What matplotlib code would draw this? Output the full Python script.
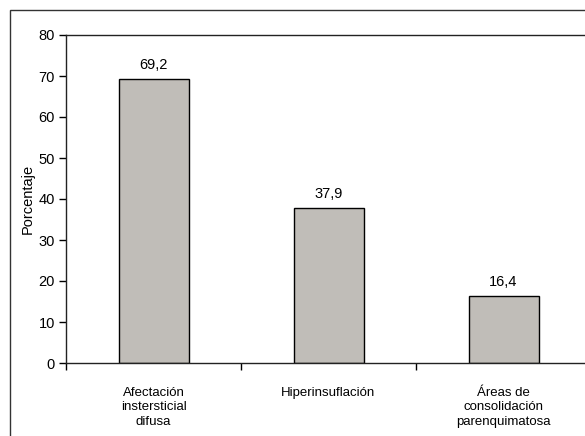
import matplotlib.pyplot as plt
from matplotlib.patches import Rectangle
import numpy as np

categories = ["Afectación\ninstersticial\ndifusa", "Hiperinsuflación", "Áreas de\nconsolidación\nparenquimatosa"]
values = [69.2, 37.9, 16.4]
value_labels = ["69,2", "37,9", "16,4"]
yticks = [0, 10, 20, 30, 40, 50, 60, 70, 80]

plt.rcParams['font.family'] = ['Liberation Sans', 'DejaVu Sans']

W, H = 585, 436
fig = plt.figure(figsize=(W / 100, H / 100), dpi=100)

# outer frame (runs off the right and bottom edges like the reference)
fig.patches.append(Rectangle((10 / W, -0.05), 1.1, 1 - 10 / H + 0.05,
                             transform=fig.transFigure, fill=False,
                             ec='#333333', lw=1.0))

left, right = 66 / W, 591 / W
bottom, top = (H - 363) / H, (H - 35) / H
ax = fig.add_axes([left, bottom, right - left, top - bottom])

x = np.arange(len(categories))
ax.bar(x, values, width=0.4, color='#c0bdb8', edgecolor='black', linewidth=1.0)

for xi, v, lab in zip(x, values, value_labels):
    ax.annotate(lab, (xi, v), xytext=(0, 5), textcoords='offset points',
                ha='center', va='bottom', fontsize=10.5)

ax.set_xlim(-0.5, len(categories) - 0.5)
ax.set_ylim(0, 80)
ax.set_yticks(yticks)
ax.tick_params(axis='y', direction='out', length=5, width=1, labelsize=10.5, pad=3)

# category boundaries as major ticks, names as minor labels
ax.set_xticks(np.arange(-0.5, len(categories), 1.0))
ax.set_xticklabels([])
ax.set_xticks(x, minor=True)
ax.set_xticklabels(categories, minor=True, fontsize=9.5, linespacing=1.3)
ax.tick_params(axis='x', which='major', direction='out', length=5, width=1)
ax.tick_params(axis='x', which='minor', length=0, pad=17)

ax.set_ylabel("Porcentaje", fontsize=10.5, labelpad=3)

for s in ax.spines.values():
    s.set_linewidth(1.0)
    s.set_color('#222222')

fig.savefig("out.png", dpi=100)
